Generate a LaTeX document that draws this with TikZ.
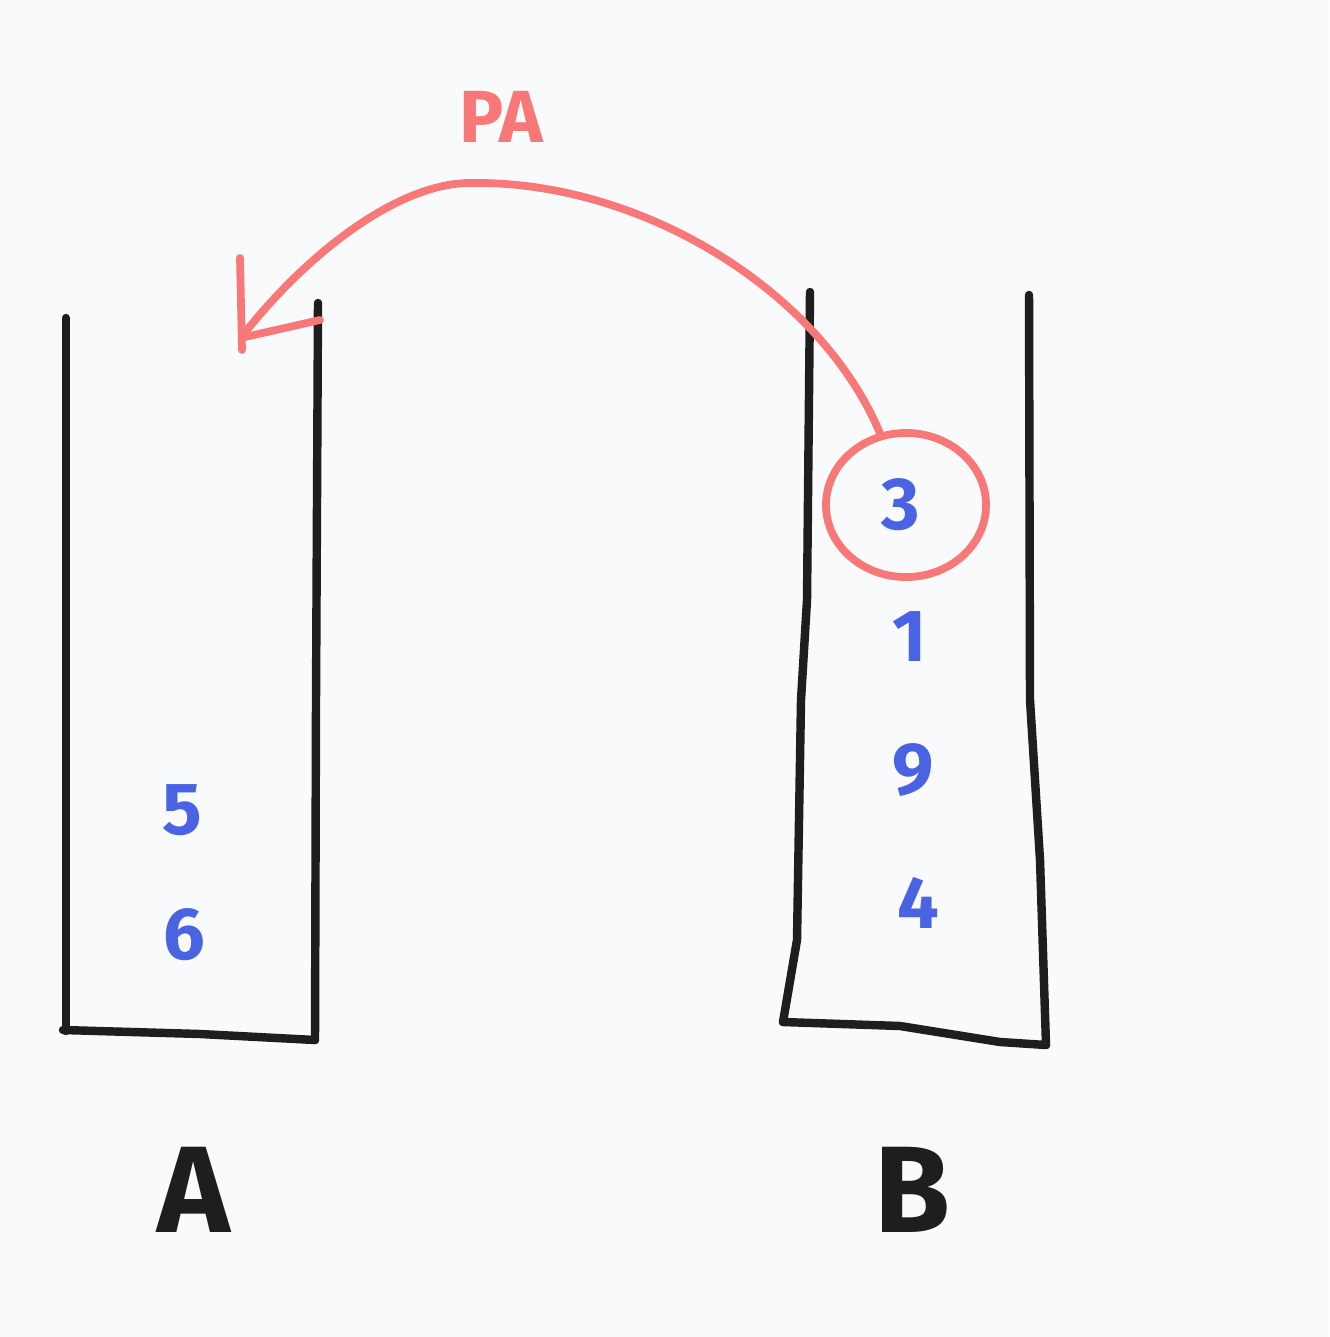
\documentclass[tikz,border=0pt]{standalone}
\usepackage{fontspec}
\setmainfont{Fira Sans}
\usetikzlibrary{shapes.geometric}
\definecolor{bgpaper}{HTML}{F9FAFB}
\definecolor{ink}{HTML}{1E1E1E}
\definecolor{numblue}{HTML}{4A63E2}
\definecolor{pared}{HTML}{F87878}
\tikzset{
  wall/.style={draw=ink,line width=2.4pt,line cap=round,line join=round},
  num/.style={text=numblue,font=\fontsize{21}{21}\selectfont\bfseries,inner sep=0pt},
  stacklbl/.style={text=ink,font=\fontsize{35}{35}\selectfont\bfseries,inner sep=0pt},
  mv/.style={draw=pared,line width=2.2pt,line cap=round,line join=round},
}

\begin{document}
\begin{tikzpicture}[x=0.01cm,y=-0.01cm]
\fill[bgpaper] (0,0) rectangle (1329,1337);
\useasboundingbox (0,0) rectangle (1329,1337);
% stack A
\draw[wall] (66,318) -- (66,1031);
\draw[wall] (318,303) -- (316,700) -- (315,1040);
\draw[wall] (63,1030) -- (200,1034) -- (315,1040);
% stack B
\draw[wall] (810,292) -- (807,600) -- (801,700) -- (797,940) -- (783,1022);
\draw[wall] (1029,295) -- (1030,700) -- (1040,860) -- (1046,1045);
\draw[wall] (783,1022) -- (900,1026) -- (1000,1042) -- (1046,1045);
% contents
\node[num] (a5) at (182,810) {5};
\node[num] (a6) at (184,935) {6};
\node[num] (b3) at (901,505) {3};
\node[num] (b1) at (910,637) {1};
\node[num] (b9) at (913,770) {9};
\node[num] (b4) at (918,903) {4};
\node[stacklbl] (la) at (194,1190) {A};
\node[stacklbl] (lb) at (912,1190) {B};
% move
\node[mv,ellipse,minimum width=1.6cm,minimum height=1.44cm] (pick) at (906,505) {};
\coordinate (drop) at (243,335);
\coordinate (top) at (470,183);
\draw[mv] (pick.110) .. controls (820,290) and (640,180) .. (top)
  .. controls (400,183) and (310,250) .. (drop);
\draw[mv] (240,258) -- (242,350);
\draw[mv] (245,337) -- (320,320);
\node[text=pared,font=\fontsize{21}{21}\selectfont\bfseries,inner sep=0pt] (pa) at (501,117) {PA};
\end{tikzpicture}
\end{document}
